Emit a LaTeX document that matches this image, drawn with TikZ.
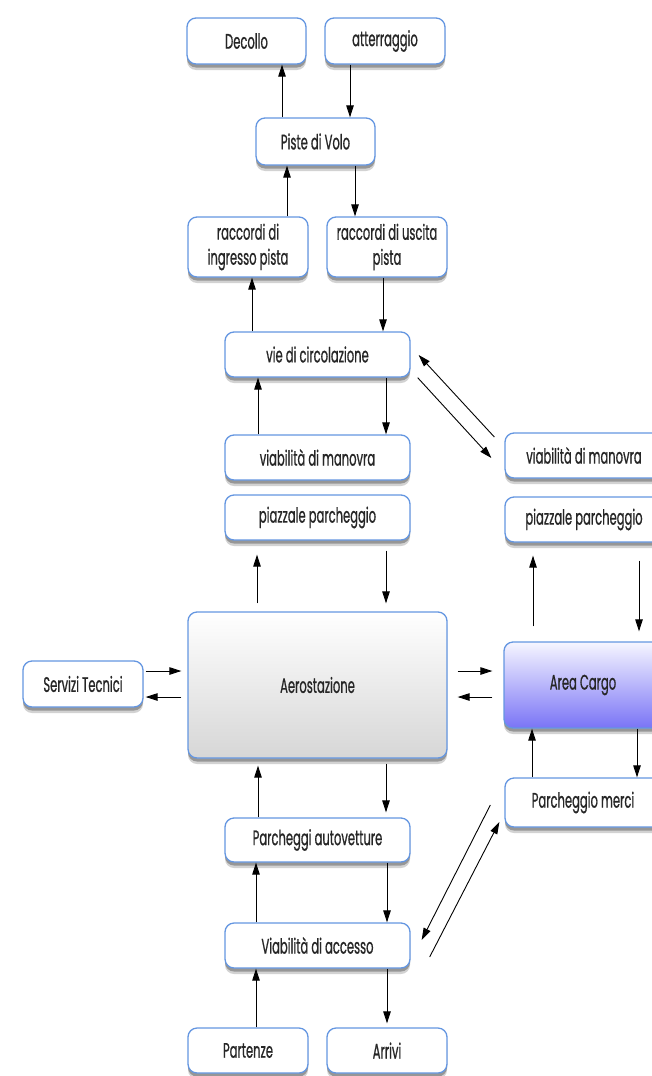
\documentclass[tikz,border=0pt]{standalone}
\usepackage{fontspec}
\setmainfont[FakeStretch=0.55,FakeBold=0.7]{Poppins}
\usetikzlibrary{shadows,arrows.meta,calc}
\definecolor{bord}{RGB}{100,150,225}
\definecolor{cargotop}{RGB}{246,246,255}
\definecolor{cargobot}{RGB}{122,116,246}
\tikzset{
  box/.style={draw=bord, line width=1.3pt, rounded corners=9pt, fill=white,
    align=center, inner sep=2pt, font=\fontsize{21}{25}\selectfont, text=black!85,
    drop shadow={shadow xshift=0pt, shadow yshift=-6pt, opacity=0.25, fill=black!70},
    drop shadow={shadow xshift=0pt, shadow yshift=-3.5pt, opacity=0.45, fill=black!70}},
  arr/.style={-{Triangle[length=12pt,width=7.5pt]}, line width=0.9pt, black},
}
\begin{document}
\begin{tikzpicture}[x=1pt,y=-1pt]
\useasboundingbox (0,0) rectangle (652,1076);
\clip (0,0) rectangle (652,1076);
% top
\node[box, minimum width=119, minimum height=46] (dec) at (246.5,41) {Decollo};
\node[box, minimum width=120, minimum height=46] (att) at (385,41) {atterraggio};
\node[box, minimum width=119, minimum height=47] (pv) at (315.5,141.5) {Piste di Volo};
\node[box, minimum width=120, minimum height=60] (ri) at (248,247) {raccordi di\\ingresso pista};
\node[box, minimum width=120, minimum height=60] (ru) at (387,247) {raccordi di uscita\\pista};
\node[box, minimum width=185, minimum height=45] (vie) at (317.5,354.5) {vie di circolazione};
\node[box, minimum width=185, minimum height=45] (vml) at (317.5,457.5) {viabilità di manovra};
\node[box, minimum width=185, minimum height=45] (ppl) at (317.5,517.5) {piazzale parcheggio};
\node[box, minimum width=158, minimum height=45] (vmr) at (584,455.5) {viabilità di manovra};
\node[box, minimum width=158, minimum height=45] (ppr) at (584,519.5) {piazzale parcheggio};
% middle
\node[box, minimum width=259, minimum height=146, top color=white, bottom color=black!16] (aero) at (317.5,685) {Aerostazione};
\node[box, minimum width=120, minimum height=46] (serv) at (83,684) {Servizi Tecnici};
\node[box, minimum width=158, minimum height=86, top color=cargotop, bottom color=cargobot] (cargo) at (583,685) {Area Cargo};
\node[box, minimum width=156, minimum height=49] (pm) at (583,802.5) {Parcheggio merci};
% bottom
\node[box, minimum width=185, minimum height=44] (pa) at (317.5,840) {Parcheggi autovetture};
\node[box, minimum width=185, minimum height=45] (va) at (317.5,945.5) {Viabilità di accesso};
\node[box, minimum width=120, minimum height=45] (par) at (248,1050.5) {Partenze};
\node[box, minimum width=120, minimum height=45] (arv) at (387,1050.5) {Arrivi};
% arrows top
\draw[arr] ($(pv.north)+(-33.5,0)$) -- ($(dec.south)+(35.5,0)$);
\draw[arr] ($(att.south)+(-35,0)$) -- ($(pv.north)+(34.5,0)$);
\draw[arr] ($(ri.north)+(39,0)$) -- ($(pv.south)+(-28.5,0)$);
\draw[arr] ($(pv.south)+(39.5,0)$) -- ($(ru.north)+(-32,0)$);
\draw[arr] ($(vie.north)+(-65.5,0)$) -- ($(ri.south)+(4,0)$);
\draw[arr] ($(ru.south)+(-4,0)$) -- ($(vie.north)+(65.5,0)$);
\draw[arr] ($(vml.north)+(-59.5,0)$) -- ($(vie.south)+(-59.5,0)$);
\draw[arr] ($(vie.south)+(68.5,0)$) -- ($(vml.north)+(68.5,0)$);
\draw[arr, shorten <=8pt, shorten >=14pt] ($(aero.north)+(-60.5,0)$) -- ($(ppl.south)+(-60.5,0)$);
\draw[arr, shorten <=10pt, shorten >=8pt] ($(ppl.south)+(68.5,0)$) -- ($(aero.north)+(68.5,0)$);
% diagonals to right column
\draw[arr] ($(vmr.west)+(-10,-18.5)$) -- ($(vie.east)+(8,0.5)$);
\draw[arr] ($(vie.south east)+(7,0)$) -- ($(vmr.west)+(-13,2.5)$);
\draw[arr, shorten <=15pt, shorten >=13pt] ($(cargo.north)+(-50,0)$) -- ($(ppr.south)+(-51,0)$);
\draw[arr, shorten <=18pt, shorten >=10pt] ($(ppr.south)+(55,0)$) -- ($(cargo.north)+(56,0)$);
% horizontal
\draw[arr] ($(serv.east)+(2,-13)$) -- ($(aero.west)+(-6,-14)$);
\draw[arr] ($(aero.west)+(-6,12)$) -- ($(serv.east)+(2,13)$);
\draw[arr] ($(aero.east)+(10,-14)$) -- ($(cargo.west)+(-11,-14)$);
\draw[arr] ($(cargo.west)+(-11,12)$) -- ($(aero.east)+(10,12)$);
% cargo - parcheggio merci
\draw[arr] ($(pm.north)+(-51,0)$) -- ($(cargo.south)+(-51,0)$);
\draw[arr] ($(cargo.south)+(54,0)$) -- ($(pm.north)+(54,0)$);
\draw[arr] ($(pm.west)+(-14,2.5)$) -- ($(va.east)+(11,-5.5)$);
\draw[arr] ($(va.east)+(19,11.5)$) -- ($(pm.west)+(-5,19.5)$);
% bottom arrows
\draw[arr, shorten >=7pt] ($(pa.north)+(-59.5,0)$) -- ($(aero.south)+(-59.5,0)$);
\draw[arr, shorten <=5pt, shorten >=5pt] ($(aero.south)+(68.5,0)$) -- ($(pa.north)+(68.5,0)$);
\draw[arr] ($(va.north)+(-61.5,0)$) -- ($(pa.south)+(-61.5,0)$);
\draw[arr] ($(pa.south)+(69.5,0)$) -- ($(va.north)+(69.5,0)$);
\draw[arr] ($(par.north)+(8,0)$) -- ($(va.south)+(-61.5,0)$);
\draw[arr, shorten >=4pt] ($(va.south)+(69.5,0)$) -- ($(arv.north)+(0,0)$);
\end{tikzpicture}
\end{document}
